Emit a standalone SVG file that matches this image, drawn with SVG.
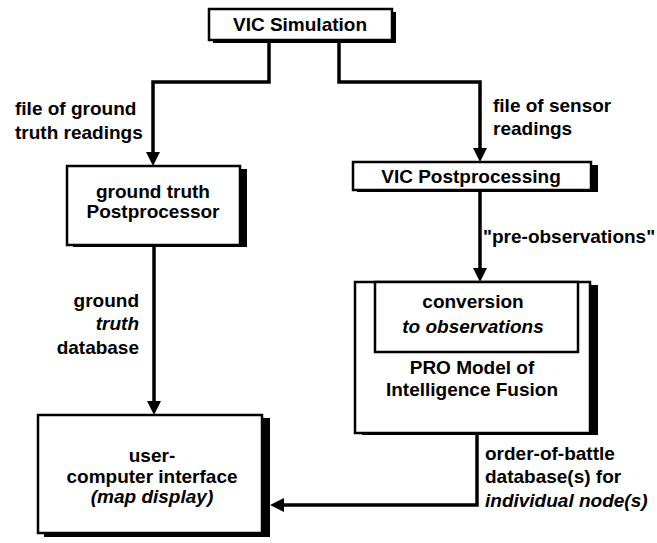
<svg xmlns="http://www.w3.org/2000/svg" width="657" height="543" viewBox="0 0 657 543">
<style>
text{font-family:"Liberation Sans",Arial,Helvetica,sans-serif;font-size:19px;font-weight:bold;fill:#000}
.c{text-anchor:middle}
.r{text-anchor:end}
.i{font-style:italic}
.box{fill:#fff;stroke:#000;stroke-width:2.5}
.sh{fill:#000}
.ln{fill:none;stroke:#000;stroke-width:3.5}
</style>
<defs>
<marker id="ah" markerUnits="userSpaceOnUse" markerWidth="14" markerHeight="14" refX="0" refY="7" orient="auto" viewBox="0 0 14 14">
<path d="M0,0 L14,7 L0,14 z" fill="#000"/>
</marker>
</defs>
<rect width="657" height="543" fill="#fff"/>
<g id="connectors">
<path class="ln" d="M269,40 V82 H153 V152" marker-end="url(#ah)"/>
<path class="ln" d="M339,40 V82 H480 V148" marker-end="url(#ah)"/>
<path class="ln" d="M154,246 V401" marker-end="url(#ah)"/>
<path class="ln" d="M480,191 V268" marker-end="url(#ah)"/>
<path class="ln" d="M477,434 V505 H284" marker-end="url(#ah)"/>
</g>
<g id="labels">
<text x="15" y="115">file of ground</text>
<text x="15" y="139">truth readings</text>
<text x="493" y="112">file of sensor</text>
<text x="493" y="135">readings</text>
<text class="r" x="139" y="307">ground</text>
<text class="r i" x="139" y="330">truth</text>
<text class="r" x="139" y="354">database</text>
<text x="483" y="243">"pre-observations"</text>
<text x="485" y="460">order-of-battle</text>
<text x="485" y="483">database(s) for</text>
<text class="i" x="485" y="507">individual node(s)</text>
</g>
<g id="vic-simulation">
<rect class="sh" x="213" y="12" width="183" height="31"/>
<rect class="box" x="209" y="9" width="183" height="31"/>
<text class="c" x="300" y="31">VIC Simulation</text>
</g>
<g id="ground-truth-postprocessor">
<rect class="sh" x="73" y="169" width="174" height="78"/>
<rect class="box" x="67" y="166" width="173" height="79"/>
<text class="c" x="153" y="198">ground truth</text>
<text class="c" x="153" y="218">Postprocessor</text>
</g>
<g id="vic-postprocessing">
<rect class="sh" x="357" y="165" width="241" height="27"/>
<rect class="box" x="353" y="162" width="238" height="28"/>
<text class="c" x="471" y="183">VIC Postprocessing</text>
</g>
<g id="pro-model">
<rect class="sh" x="362" y="285" width="236" height="150"/>
<rect class="box" x="355" y="282" width="235" height="151"/>
<rect class="box" x="375" y="282" width="203" height="70"/>
<text class="c" x="473" y="308">conversion</text>
<text class="c i" x="473" y="333">to observations</text>
<text class="c" x="472" y="374">PRO Model of</text>
<text class="c" x="472" y="396">Intelligence Fusion</text>
</g>
<g id="user-computer-interface">
<rect class="sh" x="44" y="418" width="226" height="119"/>
<rect class="box" x="38" y="415" width="224" height="118"/>
<text class="c" x="152" y="462">user-</text>
<text class="c" x="152" y="483">computer interface</text>
<text class="c i" x="152" y="503">(map display)</text>
</g>
</svg>
